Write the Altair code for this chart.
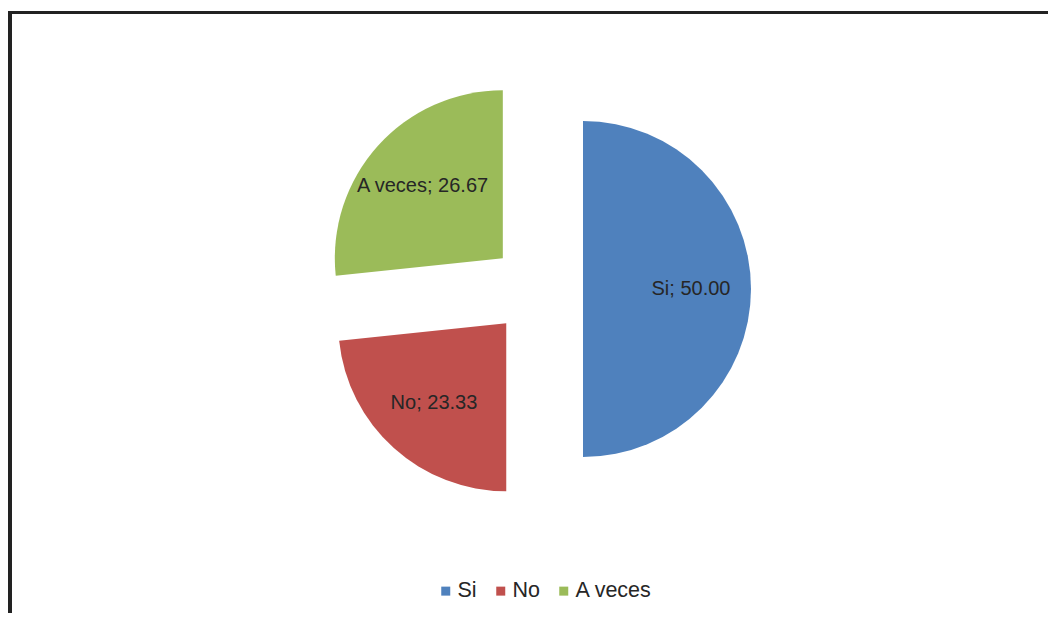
import altair as alt
import pandas as pd

categories = ["Si", "No", "A veces"]
values = [50.00, 23.33, 26.67]
colors = ["#4F81BD", "#C0504D", "#9BBB59"]

df = pd.DataFrame({"cat": categories, "value": values, "order": list(range(len(categories)))})

W, H = 1040, 605
CX, CY, EXPLODE, R, LR = 529, 281, 46, 168, 108
FONT = "Liberation Sans"
TXT = "#262626"

base = (
    alt.Chart(df)
    .transform_joinaggregate(total="sum(value)")
    .transform_window(cum="sum(value)", sort=[alt.SortField("order")], frame=[None, 0])
    .transform_calculate(t1="datum.cum / datum.total * 2 * PI")
    .transform_calculate(t0="(datum.cum - datum.value) / datum.total * 2 * PI")
    .transform_calculate(mid="(datum.t0 + datum.t1) / 2")
    .transform_calculate(cx=f"{CX} + {EXPLODE} * sin(datum.mid)")
    .transform_calculate(cy=f"{CY} - {EXPLODE} * cos(datum.mid)")
    .transform_calculate(lx=f"{CX} + ({EXPLODE} + {LR}) * sin(datum.mid)")
    .transform_calculate(ly=f"{CY} - ({EXPLODE} + {LR}) * cos(datum.mid)")
    .transform_calculate(label="datum.cat + '; ' + format(datum.value, '.2f')")
)

arcs = base.mark_arc(outerRadius=R).encode(
    theta=alt.Theta("t0:Q", scale=None),
    theta2=alt.Theta2("t1:Q"),
    x=alt.X("cx:Q", scale=None, axis=None),
    y=alt.Y("cy:Q", scale=None, axis=None),
    color=alt.Color(
        "cat:N",
        scale=alt.Scale(domain=categories, range=colors),
        sort=categories,
        legend=alt.Legend(
            orient="none",
            legendX=427,
            legendY=572,
            direction="horizontal",
            title=None,
            symbolType="square",
            symbolSize=81,
            symbolStrokeWidth=0,
            labelFontSize=21.5,
            labelFont=FONT,
            labelColor=TXT,
            labelOffset=1,
            columnPadding=13,
        ),
    ),
)

labels = base.mark_text(fontSize=20, font=FONT, color=TXT).encode(
    x=alt.X("lx:Q", scale=None, axis=None),
    y=alt.Y("ly:Q", scale=None, axis=None),
    text="label:N",
)

one = pd.DataFrame({"k": [0]})
left_rule = alt.Chart(one).mark_rule(color="#222222", strokeWidth=6).encode(
    x=alt.value(1), y=alt.value(3), y2=alt.value(H)
)
top_rule = alt.Chart(one).mark_rule(color="#222222", strokeWidth=3).encode(
    x=alt.value(0), x2=alt.value(W), y=alt.value(4.5)
)

chart = (
    alt.layer(left_rule, top_rule, arcs, labels)
    .properties(width=W, height=H, padding=0, autosize="none")
    .configure_view(stroke=None)
)

chart.save("out.html", embed_options={"renderer": "svg", "actions": False})
